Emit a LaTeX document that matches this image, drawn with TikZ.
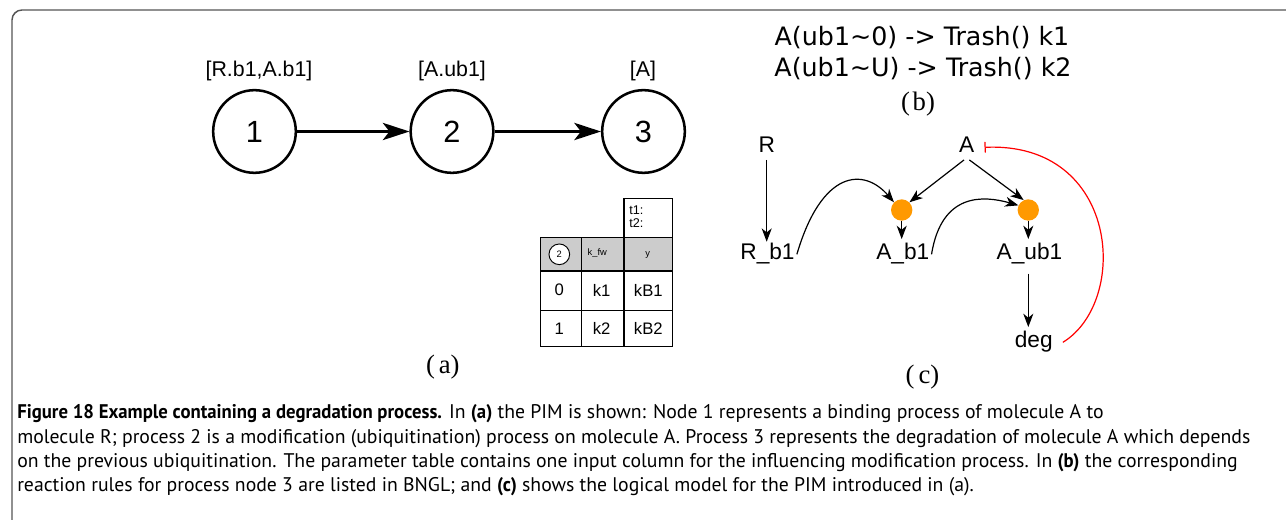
\documentclass[tikz,border=0pt]{standalone}
\usepackage{fontspec}
\setmainfont{Liberation Sans}
\newfontfamily\serifff{Liberation Serif}
\newfontfamily\bnglfont{DejaVu Sans}
\newfontfamily\capfont[BoldFeatures={FakeStretch=0.95}]{PT Sans}
\usetikzlibrary{arrows.meta}
\definecolor{dotorange}{RGB}{255,153,0}
\definecolor{framegray}{RGB}{85,85,85}
\definecolor{hdrgray}{RGB}{204,204,204}
\begin{document}
\begin{tikzpicture}[x=0.75pt,y=-0.75pt,
  proc/.style={circle,draw,line width=1.9pt,minimum size=62pt,inner sep=0pt,font=\fontsize{23}{27}\selectfont},
  plabel/.style={font=\fontsize{16}{19}\selectfont, anchor=base, inner sep=0pt},
  aarr/.style={line width=1.6pt,-{Stealth[length=20pt,width=13pt,inset=5pt]}},
  tline/.style={line width=0.8pt},
  cell/.style={font=\fontsize{12.5}{15}\selectfont, inner sep=0pt},
  tinytxt/.style={font=\fontsize{7}{8}\selectfont, inner sep=0pt},
  ttxt/.style={font=\fontsize{9.5}{9.6}\selectfont, anchor=west, align=left, inner sep=0pt},
  sublabel/.style={font=\serifff\fontsize{20}{24}\selectfont, inner sep=0pt},
  bngl/.style={font=\bnglfont\fontsize{19}{22}\selectfont, anchor=base, inner sep=0pt},
  species/.style={font=\fontsize{17}{20}\selectfont, text height=12pt, text depth=3.5pt, inner sep=1.5pt, anchor=base},
  hub/.style={circle, fill=dotorange, minimum size=16pt, inner sep=0pt},
  carr/.style={line width=0.9pt,-{Stealth[length=10pt,width=7.5pt,inset=3pt]}},
  inhib/.style={line width=0.9pt, red, -{Bar[width=8pt]}},
  capline/.style={font=\capfont\fontsize{14.8}{17}\selectfont, anchor=base west, inner sep=0pt},
]
\useasboundingbox (0,0) rectangle (1286,520);
\fill[white] (0,0) rectangle (1286,520);
% frame
\draw[framegray, line width=1.1pt, rounded corners=7.5pt] (12,530) -- (12,10) -- (1295,10);

% ---------- (a) PIM ----------
\node[proc] (n1) at (254.5,131.5) {1};
\node[proc] (n2) at (452,131.5) {2};
\node[proc] (n3) at (643.5,131.5) {3};
\node[plabel] (l1) at (259,77) {[R.b1,A.b1]};
\node[plabel] (l2) at (452,77) {[A.ub1]};
\node[plabel] (l3) at (643,77) {[A]};
\draw[aarr] (n1) -- (n2);
\draw[aarr] (n2) -- (n3);

% parameter table
\fill[hdrgray] (540.7,237.7) rectangle (672.7,271);
\draw[tline] (624,198.3) rectangle (672.7,237.7);
\draw[tline] (540.7,237.7) rectangle (672.7,346.7);
\draw[tline] (581.7,237.7) -- (581.7,346.7);
\draw[tline] (624,237.7) -- (624,346.7);
\draw[tline] (540.7,271) -- (672.7,271);
\draw[tline] (540.7,310.7) -- (672.7,310.7);
\node[ttxt] (tt) at (629,217) {t1:\\t2:};
\node[circle,draw,line width=0.7pt,fill=white,minimum size=15.5pt,inner sep=0pt,font=\fontsize{7}{8}\selectfont] (hc) at (559.3,254.3) {2};
\node[tinytxt] (hk) at (597.3,253.3) {k\_fw};
\node[tinytxt] (hy) at (647.7,255) {y};
\node[cell] (c00) at (559.3,290) {0};
\node[cell] (c01) at (601.7,290) {k1};
\node[cell] (c02) at (648.3,290) {kB1};
\node[cell] (c10) at (559.3,328.5) {1};
\node[cell] (c11) at (601.7,328.5) {k2};
\node[cell] (c12) at (648.3,328.5) {kB2};
\node[sublabel] (la) at (442.8,367) {(\kern0.15em a)};

% ---------- (b) BNGL ----------
\node[bngl] (b1) at (922,46) {A(ub1\textasciitilde 0) -> Trash() k1};
\node[bngl] (b2) at (923,76.5) {A(ub1\textasciitilde U) -> Trash() k2};
\node[sublabel] (lb) at (918,104) {(\kern0.1em b)};

% ---------- (c) logical model ----------
\node[species] (R) at (766.7,153) {R};
\node[species] (A) at (966.7,153) {A};
\node[species] (Rb1) at (767.5,260) {R\_b1};
\node[species] (Ab1) at (902.8,260) {A\_b1};
\node[species] (Aub1) at (1029.5,260) {A\_ub1};
\node[species] (deg) at (1033.7,348) {deg};
\node[hub] (h1) at (901.7,210) {};
\node[hub] (h2) at (1028.3,210) {};

\draw[carr] (R.south) -- (R.south |- Rb1.north);
\draw[carr] ([xshift=-2pt]A.south) -- (h1.45);
\draw[carr] ([xshift=2pt]A.south) -- (h2.115);
\draw[carr, shorten >=2pt] (h1.south) -- (h1.south |- Ab1.north);
\draw[carr, shorten >=2pt] (h2.south) -- (h2.south |- Aub1.north);
\draw[carr, shorten <=5pt, shorten >=2pt] (Aub1.south -| h2.south) -- (h2.south |- deg.north);
\draw[carr] (Rb1.east) .. controls +(25,-85) and +(-30,-35) .. (h1.135);
\draw[carr] (Ab1.east) .. controls +(10,-62) and +(-35,-10) .. (h2.155);
\draw[inhib] ([xshift=6pt]deg.east) .. controls +(67,-41) and +(135,-6) .. ([xshift=6pt]A.east);
\node[sublabel] (lc) at (922.5,377.5) {(\kern0.15em c)};

% ---------- caption ----------
\node[capline] (cap1) at (17,419) {\textbf{Figure 18 Example containing a degradation process.} In \textbf{(a)} the PIM is shown: Node 1 represents a binding process of molecule A to};
\node[capline] (cap2) at (17,443) {molecule R; process 2 is a modification (ubiquitination) process on molecule A. Process 3 represents the degradation of molecule A which depends};
\node[capline] (cap3) at (17,467) {on the previous ubiquitination. The parameter table contains one input column for the influencing modification process. In \textbf{(b)} the corresponding};
\node[capline] (cap4) at (17,491) {reaction rules for process node 3 are listed in BNGL; and \textbf{(c)} shows the logical model for the PIM introduced in (a).};
\end{tikzpicture}
\end{document}
